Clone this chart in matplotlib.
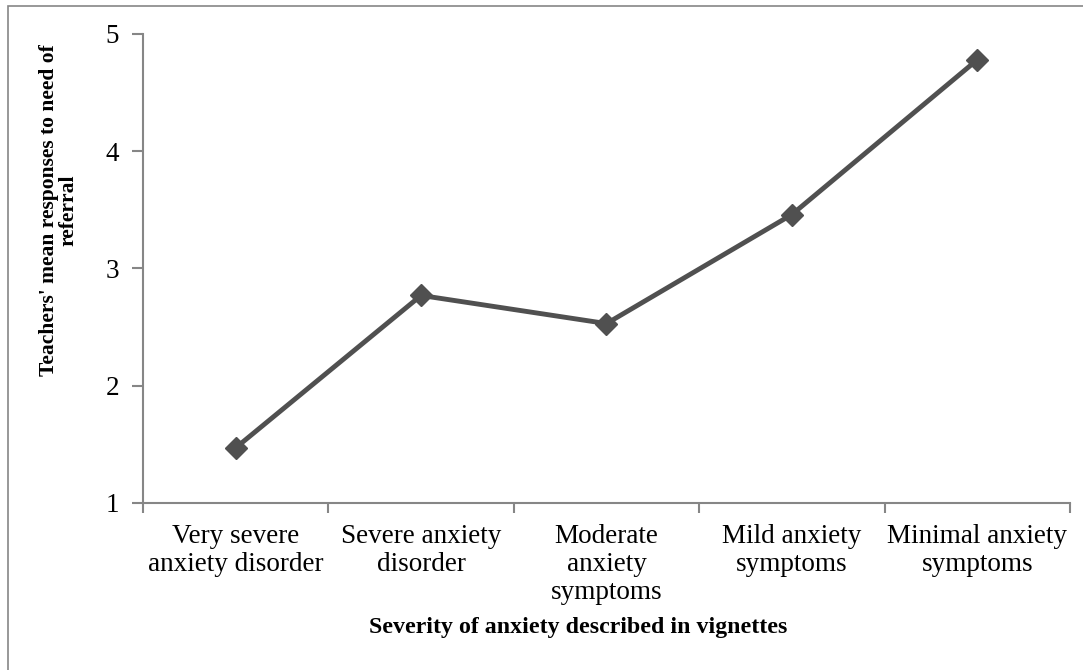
import matplotlib
matplotlib.use("Agg")
import matplotlib.pyplot as plt
from matplotlib.patches import Rectangle

# ---- data ----
categories = ["Very severe\nanxiety disorder", "Severe anxiety\ndisorder",
              "Moderate\nanxiety\nsymptoms", "Mild anxiety\nsymptoms",
              "Minimal anxiety\nsymptoms"]
mean_response = [1.47, 2.77, 2.53, 3.46, 4.78]
y_ticks = [1, 2, 3, 4, 5]

plt.rcParams.update({
    "font.family": ["Liberation Serif", "DejaVu Serif"],
    "font.size": 19.5,
})

AXIS_GREY = "#868686"
LINE_GREY = "#505050"

fig = plt.figure(figsize=(10.83, 6.70), dpi=100)
ax = fig.add_axes([0.132, 0.2493, 0.856, 0.70])

x = list(range(len(categories)))
ax.plot(x, mean_response, color=LINE_GREY, linewidth=3.5, marker="D",
        markersize=11, zorder=3)

ax.set_xlim(-0.5, len(categories) - 0.5)
ax.set_ylim(1, 5)
ax.set_yticks(y_ticks)
ax.set_xticks([i - 0.5 for i in range(len(categories) + 1)], minor=False)
ax.set_xticklabels([])
ax.set_xticks(x, minor=True)
ax.set_xticklabels(categories, minor=True)
ax.tick_params(axis="x", which="minor", length=0, pad=15)
ax.tick_params(axis="x", which="major", length=7, width=1.5, color=AXIS_GREY)
ax.tick_params(axis="y", length=8, width=1.5, color=AXIS_GREY, pad=9)
for lbl in ax.get_xticklabels(minor=True):
    lbl.set_verticalalignment("top")
    lbl.set_multialignment("center")
    lbl.set_linespacing(1.17)

for side in ("top", "right"):
    ax.spines[side].set_visible(False)
for side in ("left", "bottom"):
    ax.spines[side].set_color(AXIS_GREY)
    ax.spines[side].set_linewidth(1.5)

fig.text(59 / 1083, 1 - 210 / 670, "Teachers' mean responses to need of\nreferral",
         rotation=90, ha="center", va="center", multialignment="center",
         fontweight="bold", fontsize=15.5, linespacing=0.95)
fig.text(578 / 1083, 1 - 628 / 670, "Severity of anxiety described in vignettes",
         ha="center", va="center", fontweight="bold", fontsize=17.2)

# outer chart frame (only left and top edges fall inside the picture)
fig.patches.append(Rectangle((8 / 1083, -0.1), 1.2, 1.1 - 6 / 670,
                             transform=fig.transFigure, fill=False,
                             edgecolor=AXIS_GREY, linewidth=1.2))

fig.savefig("out.png", dpi=100)
